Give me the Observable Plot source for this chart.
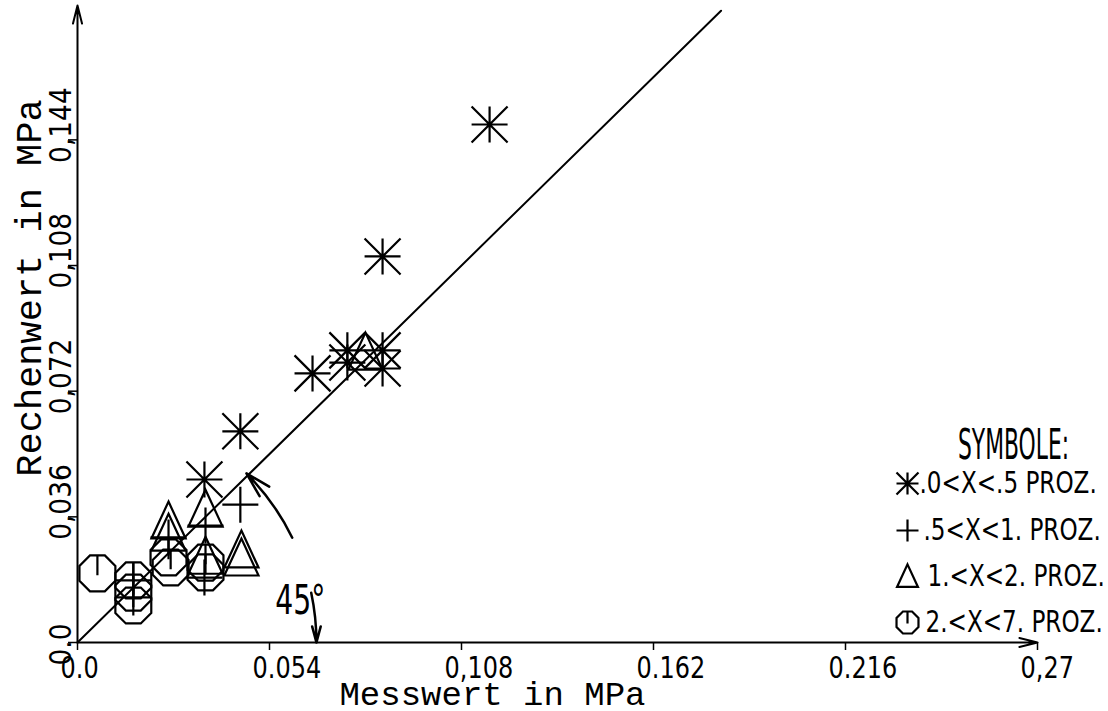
<!DOCTYPE html>
<html>
<head>
<meta charset="utf-8">
<script src="https://cdn.jsdelivr.net/npm/d3@7"></script>
<script src="https://cdn.jsdelivr.net/npm/@observablehq/plot@0.6"></script>
<style>
  body { margin: 0; background: #fff; }
  svg { display: block; }
</style>
</head>
<body>
<div id="chart"></div>
<script>
// ---- Axis ticks ----
const xTicks = [0, 0.054, 0.108, 0.162, 0.216, 0.27];
const xTickLabels = ["0.0", "0.054", "0,108", "0.162", "0.216", "0,27"];
const yTicks = [0, 0.036, 0.072, 0.108, 0.144];
const yTickLabels = ["0.0", "0,036", "0,072", "0,108", "0,144"];
const xMax = 0.27;
const yMax = 0.1825;

// ---- Legend groups ----
const groupLabels = [".0<X<.5 PROZ.", ".5<X<1. PROZ.", "1.<X<2. PROZ.", "2.<X<7. PROZ."];

// ---- Series (Messwert x, Rechenwert y) in MPa ----
// group 1: .0<X<.5  (star)
const starMess = [0.1159, 0.0858, 0.0661, 0.0759, 0.0759, 0.0858, 0.0858, 0.0458, 0.0357];
const starRech = [0.1484, 0.1106, 0.0771, 0.0837, 0.0802, 0.0837, 0.0785, 0.0605, 0.0467];
// group 2: .5<X<1.  (plus)
const plusMess = [0.0458, 0.0360, 0.0256, 0.0357, 0.0157, 0.0157];
const plusRech = [0.0395, 0.0335, 0.0301, 0.0186, 0.0178, 0.0129];
// group 3: 1.<X<2.  (triangle)
const triMess = [0.0256, 0.0256, 0.0360, 0.0360, 0.0461, 0.0461, 0.0810];
const triRech = [0.0347, 0.0312, 0.0381, 0.0246, 0.0264, 0.0241, 0.0831];
// group 4: 2.<X<7.  (octagon)
const octMess = [0.0056, 0.0157, 0.0157, 0.0157, 0.0256, 0.0262, 0.0360, 0.0360];
const octRech = [0.0198, 0.0178, 0.0143, 0.0106, 0.0244, 0.0215, 0.0229, 0.0201];

// 45° reference line y = x
const refLine = [0, 0.181];

// ---- custom plotter symbols ----
function sym(fn) {
  return { draw(ctx, size) { fn(ctx, Math.sqrt(size / Math.PI)); } };
}
const starSym = sym((c, r) => {
  c.moveTo(-r, 0); c.lineTo(r, 0);
  c.moveTo(0, -r); c.lineTo(0, r);
  c.moveTo(-r, -r); c.lineTo(r, r);
  c.moveTo(-r, r); c.lineTo(r, -r);
});
const plusSym = sym((c, r) => {
  c.moveTo(-r, 0); c.lineTo(r, 0);
  c.moveTo(0, -r); c.lineTo(0, r);
});
const triSym = sym((c, r) => {
  c.moveTo(0, -1.1 * r);
  c.lineTo(0.95 * r, 0.95 * r);
  c.lineTo(-0.95 * r, 0.95 * r);
  c.closePath();
});
const octSym = sym((c, r) => {
  const R = r * 1.08;
  for (let k = 0; k < 8; k++) {
    const a = (22.5 + 45 * k) * Math.PI / 180;
    const px = R * Math.cos(a), py = R * Math.sin(a);
    if (k === 0) c.moveTo(px, py); else c.lineTo(px, py);
  }
  c.closePath();
  const top = R * Math.cos(22.5 * Math.PI / 180);
  c.moveTo(0, -top); c.lineTo(0, 0.1 * r);
});
const symbols = [starSym, plusSym, triSym, octSym];

const tickFont = "'DejaVu Sans', sans-serif";
const titleFont = "'Liberation Mono', 'DejaVu Sans Mono', monospace";

// 45° annotation arcs (radius in data units, centered at origin)
const arcR = 0.0672, arcRy = 0.0685;
const deg = Math.PI / 180;
const arcs = [
  { a1: 26, a2: 45, bend: -9.5 },
  { a1: 12, a2: 0, bend: 6 }
];
const angleLabel = { text: "45°", x: 0.0627, y: 0.012 };

const series = [
  [starMess, starRech],
  [plusMess, plusRech],
  [triMess, triRech],
  [octMess, octRech]
];

const markerStyle = { stroke: "black", strokeWidth: 2.2, fill: "none" };

// legend layout (pixel offsets from top-left of frame)
const legendRowY = [478, 525, 571, 617];
const legendSymX = 830;
const legendTextX = [842, 846, 850, 848];

// horizontal condensation of the plotter-like lettering
const condense = { cond80: 0.8, cond88: 0.88, cond77: 0.77, cond52: 0.52, cond69: 0.69 };

const plot = Plot.plot({
  width: 1108,
  height: 711,
  marginLeft: 77,
  marginRight: 71,
  marginTop: 5,
  marginBottom: 69,
  x: { domain: [0, xMax] },
  y: { domain: [0, yMax] },
  marks: [
    // axes with arrows
    Plot.arrow([{ x1: 0, y1: 0, x2: xMax, y2: 0 }], {
      x1: "x1", y1: "y1", x2: "x2", y2: "y2",
      stroke: "black", strokeWidth: 2, headLength: 14, headAngle: 28
    }),
    Plot.arrow([{ x1: 0, y1: 0, x2: 0, y2: yMax }], {
      x1: "x1", y1: "y1", x2: "x2", y2: "y2",
      stroke: "black", strokeWidth: 2, headLength: 14, headAngle: 28
    }),
    Plot.axisX(xTicks, { tickSize: 8, tickFormat: () => "", label: null, strokeWidth: 1.5 }),
    Plot.axisY(yTicks, { tickSize: 9, tickFormat: () => "", label: null, strokeWidth: 1.5 }),
    Plot.text(xTicks, {
      x: d => d, frameAnchor: "bottom", lineAnchor: "middle", dx: -17, dy: 26, textAnchor: "start",
      text: (d, i) => xTickLabels[i], fontSize: 30, fontFamily: tickFont, ariaDescription: "cond80"
    }),
    Plot.text(yTicks, {
      y: d => d, frameAnchor: "left", lineAnchor: "middle", dx: -16, dy: 23, rotate: -90, textAnchor: "start",
      text: (d, i) => yTickLabels[i], fontSize: 30, fontFamily: tickFont, ariaDescription: "cond88"
    }),
    // axis titles
    Plot.text(["Messwert in MPa"], {
      frameAnchor: "bottom", lineAnchor: "middle", textAnchor: "middle", dx: -65, dy: 52, text: d => d,
      fontSize: 34, fontFamily: titleFont
    }),
    Plot.text(["Rechenwert in MPa"], {
      frameAnchor: "left", lineAnchor: "middle", textAnchor: "middle", dx: -48, dy: -36, rotate: -90,
      text: d => d, fontSize: 37, fontFamily: titleFont
    }),
    // 45° reference line
    Plot.line(refLine, { x: d => d, y: d => d, stroke: "black", strokeWidth: 2 }),
    // 45° annotation
    ...arcs.map(a => Plot.arrow([a], {
      x1: d => arcR * Math.cos(d.a1 * deg), y1: d => arcRy * Math.sin(d.a1 * deg),
      x2: d => arcR * Math.cos(d.a2 * deg), y2: d => arcRy * Math.sin(d.a2 * deg),
      bend: a.bend, stroke: "black", strokeWidth: 2.5, headLength: 16, headAngle: 30
    })),
    Plot.text([angleLabel], {
      x: "x", y: "y", text: "text", lineAnchor: "middle", fontSize: 41, fontFamily: tickFont,
      ariaDescription: "cond69"
    }),
    // data
    ...series.map(([xs, ys], g) => Plot.dot(ys, {
      x: xs, y: ys, symbol: symbols[g], r: 18, ...markerStyle
    })),
    // legend
    Plot.text(["SYMBOLE:"], {
      frameAnchor: "top-left", lineAnchor: "middle", textAnchor: "middle", dx: 1013 - 77, dy: 440,
      text: d => d, fontSize: 42, fontFamily: tickFont, ariaDescription: "cond52"
    }),
    ...groupLabels.map((lab, g) => Plot.dot([lab], {
      frameAnchor: "top-left", dx: legendSymX, dy: legendRowY[g],
      symbol: symbols[g], r: 11, ...markerStyle
    })),
    ...groupLabels.map((lab, g) => Plot.text([lab], {
      frameAnchor: "top-left", lineAnchor: "middle", dx: legendTextX[g], dy: legendRowY[g], textAnchor: "start",
      text: d => d, fontSize: 30, fontFamily: tickFont, ariaDescription: "cond77"
    }))
  ]
});

for (const [label, s] of Object.entries(condense)) {
  d3.select(plot).selectAll(`g[aria-description="${label}"] text`).each(function () {
    const t = this.getAttribute("transform") || "";
    this.setAttribute("transform", `${t} scale(${s},1)`);
  });
}
document.getElementById("chart").appendChild(plot);
</script>
</body>
</html>
